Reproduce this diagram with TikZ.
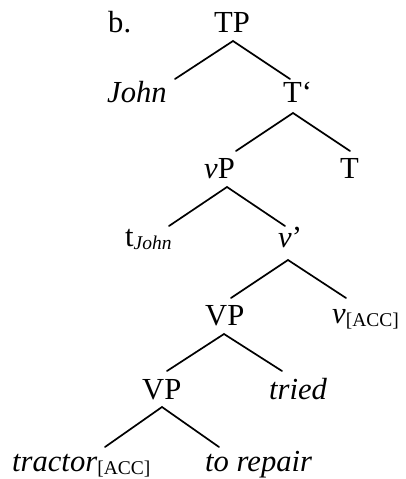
\documentclass[tikz,border=0pt]{standalone}
\usepackage{fontspec}
\setmainfont{Liberation Serif}
\newcommand{\lowsub}[1]{\raisebox{-3.5pt}{\fontsize{19.5}{22}\selectfont #1}}
\begin{document}
\begin{tikzpicture}[x=1pt,y=-1pt,
  lbl/.style={inner sep=0pt,anchor=base west,font=\fontsize{30.6}{36}\selectfont},
  branch/.style={line width=1.7pt,line cap=round}]
\useasboundingbox (0,0) rectangle (406,479);
% labels, placed at their baselines
\node[lbl] (ex) at (108,32) {b.};
\node[lbl] (tp) at (214,32) {TP};
\node[lbl] (john) at (107,102) {\textit{John}};
\node[lbl] (tbar) at (283,102) {T‘};
\node[lbl] (vp) at (204,178) {\textit{v}P};
\node[lbl] (t) at (340,178) {T};
\node[lbl] (trace) at (125,246) {t\lowsub{\textit{John}}};
\node[lbl] (vbar) at (278,247) {\textit{v}’};
\node[lbl] (VPa) at (205,325) {VP};
\node[lbl] (vacc) at (332,323) {\textit{v}\lowsub{[ACC]}};
\node[lbl] (VPb) at (142,399) {VP};
\node[lbl] (tried) at (269,399) {\textit{tried}};
\node[lbl] (tractor) at (12,471) {\textit{tractor}\lowsub{[ACC]}};
\node[lbl] (repair) at (205,471) {\textit{to repair}};
% branch points below each mother and above each daughter
\coordinate (tpA) at (233,41);
\coordinate (johnT) at (175,79);
\coordinate (tbarT) at (290,79);
\coordinate (tbarA) at (293,113);
\coordinate (vpT) at (236,151);
\coordinate (tT) at (350,151);
\coordinate (vpA) at (227,187);
\coordinate (traceT) at (169,226);
\coordinate (vbarT) at (285,226);
\coordinate (vbarA) at (288,260);
\coordinate (VPaT) at (231,298);
\coordinate (vaccT) at (346,298);
\coordinate (VPaA) at (224,334);
\coordinate (VPbT) at (167,371);
\coordinate (triedT) at (282,371);
\coordinate (VPbA) at (162,407);
\coordinate (tractorT) at (105,447);
\coordinate (repairT) at (219,447);
% branches
\draw[branch] (johnT) -- (tpA) -- (tbarT);
\draw[branch] (vpT) -- (tbarA) -- (tT);
\draw[branch] (traceT) -- (vpA) -- (vbarT);
\draw[branch] (VPaT) -- (vbarA) -- (vaccT);
\draw[branch] (VPbT) -- (VPaA) -- (triedT);
\draw[branch] (tractorT) -- (VPbA) -- (repairT);
\end{tikzpicture}
\end{document}
